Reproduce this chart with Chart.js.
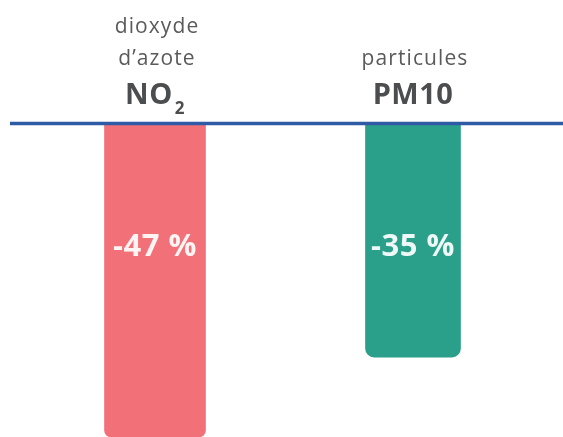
<!DOCTYPE html>
<html>
<head>
<meta charset="utf-8">
<script src="https://cdn.jsdelivr.net/npm/chart.js@4"></script>
<style>
html,body{margin:0;padding:0;background:#fff;}
#wrap{width:563px;height:437px;position:relative;}
</style>
</head>
<body>
<div id="wrap"><canvas id="c" width="563" height="437"></canvas></div>
<script>
const categories = ["NO2", "PM10"];
const topLines = [["dioxyde", "d\u2019azote"], ["particules"]];
const boldNames = [["NO", "2"], ["PM10", ""]];
const values = [-47, -35];
const valueLabels = ["-47 %", "-35 %"];
const colors = ["#f27179", "#2aa08a"];

const FONT = "'Open Sans', sans-serif";

const deco = {
  id: 'deco',
  afterDatasetsDraw(chart) {
    const ctx = chart.ctx;
    const y0 = chart.scales.y.getPixelForValue(0);
    ctx.save();
    ctx.strokeStyle = '#2f5aa6';
    ctx.lineWidth = 3.5;
    ctx.beginPath();
    ctx.moveTo(10, y0 - 0.5);
    ctx.lineTo(chart.width, y0 - 0.5);
    ctx.stroke();

    ctx.textAlign = 'center';
    ctx.textBaseline = 'alphabetic';
    categories.forEach((c, i) => {
      const meta = chart.getDatasetMeta(i);
      const bar = meta.data[i];
      const cx = bar.x;
      ctx.fillStyle = '#5a5a5a';
      ctx.font = "21px " + FONT;
      ctx.letterSpacing = '1.1px';
      const lines = topLines[i];
      const baseY = y0 - 59;
      for (let k = 0; k < lines.length; k++) {
        const yy = baseY - (lines.length - 1 - k) * 32;
        ctx.fillText(lines[k], cx + 2, yy);
      }
      ctx.letterSpacing = '0.5px';
      ctx.fillStyle = '#4b4d4f';
      ctx.font = "bold 29px " + FONT;
      const main = boldNames[i][0];
      const sub = boldNames[i][1];
      const mw = ctx.measureText(main).width;
      ctx.font = "bold 17px " + FONT;
      const sw = sub ? ctx.measureText(sub).width + 2 : 0;
      const startX = cx - (mw + sw) / 2;
      ctx.textAlign = 'left';
      ctx.font = "bold 29px " + FONT;
      ctx.fillText(main, startX, y0 - 20);
      if (sub) {
        ctx.font = "bold 17px " + FONT;
        ctx.fillText(sub, startX + mw + 2, y0 - 10);
      }
      ctx.textAlign = 'center';
      ctx.letterSpacing = '0.5px';
      ctx.fillStyle = 'rgba(255,255,255,0.92)';
      ctx.font = "bold 31px " + FONT;
      ctx.fillText(valueLabels[i], cx, 256);
    });
    ctx.restore();
  }
};

new Chart(document.getElementById('c'), {
  type: 'bar',
  data: {
    labels: categories,
    datasets: [
      {
        data: [values[0], null],
        backgroundColor: colors[0],
        barThickness: 101,
        borderRadius: 7,
        borderSkipped: 'start',
        grouped: false
      },
      {
        data: [null, values[1]],
        backgroundColor: colors[1],
        barThickness: 95,
        borderRadius: 9,
        borderSkipped: 'start',
        grouped: false
      }
    ]
  },
  options: {
    responsive: false,
    animation: false,
    layout: { padding: { left: 26, right: 21, top: 124, bottom: 0 } },
    plugins: { legend: { display: false }, tooltip: { enabled: false } },
    scales: {
      x: { display: false },
      y: { display: false, min: -47, max: 0 }
    }
  },
  plugins: [deco]
});
</script>
</body>
</html>
